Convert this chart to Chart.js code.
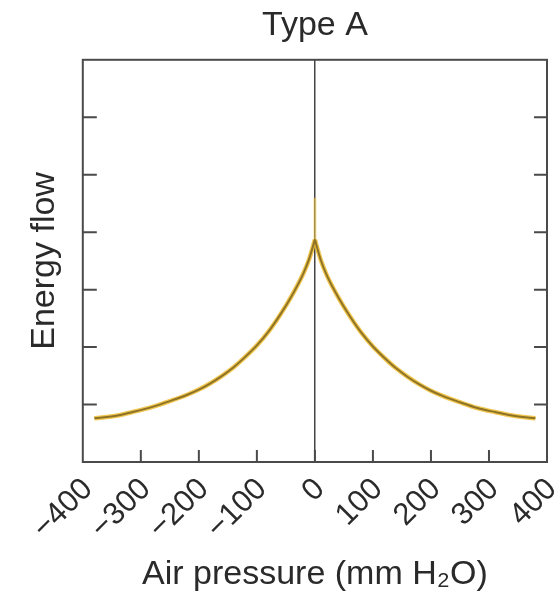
<!DOCTYPE html>
<html>
<head>
<meta charset="utf-8">
<script src="https://cdn.jsdelivr.net/npm/chart.js@4/dist/chart.umd.min.js"></script>
<style>
  body { margin: 0; background: #fff; }
  #wrap { width: 557px; height: 597px; }
</style>
</head>
<body>
<div id="wrap"><canvas id="typeA"></canvas></div>
<script>
// values
var pressure = [-380, -340, -310, -280, -250, -220, -200, -180, -160, -140, -120, -100, -80, -60, -40, -20, -10, 0,
                10, 20, 40, 60, 80, 100, 120, 140, 160, 180, 200, 220, 250, 280, 310, 340, 380];
var flow = [0.76, 0.81, 0.88, 0.96, 1.06, 1.17, 1.26, 1.37, 1.50, 1.65, 1.83, 2.03, 2.27, 2.56, 2.89, 3.28, 3.53, 3.87,
            3.52, 3.26, 2.87, 2.54, 2.25, 2.01, 1.81, 1.63, 1.48, 1.35, 1.24, 1.15, 1.04, 0.94, 0.87, 0.81, 0.76];
var spikePressure = [0, 0];
var spikeFlow = [3.87, 4.6];

var xTickValues = [-400, -300, -200, -100, 0, 100, 200, 300, 400];
var xTickLabels = ["\u2212400", "\u2212300", "\u2212200", "\u2212100", "0", "100", "200", "300", "400"];
var yTickValues = [1, 2, 3, 4, 5, 6];

var font = "'Liberation Sans', Arial, Helvetica, sans-serif";
var textColor = "#2a2a2a";

function points(xs, ys, from, to) {
    var out = [];
    for (var i = from; i <= to; i++) out.push({ x: xs[i], y: ys[i] });
    return out;
}
var mid = pressure.indexOf(0);
var leftBranch = points(pressure, flow, 0, mid);
var rightBranch = points(pressure, flow, mid, pressure.length - 1);

// frame + inward tick marks, placed with the chart's own scales
var frameAndTicks = {
    id: "frameAndTicks",
    afterDatasetsDraw: function (chart) {
        var ctx = chart.ctx, a = chart.chartArea, x = chart.scales.x, y = chart.scales.y;
        ctx.save();
        ctx.strokeStyle = "#4a4a4a";
        ctx.lineWidth = 2;
        ctx.strokeRect(a.left, a.top, a.right - a.left, a.bottom - a.top);
        ctx.beginPath();
        yTickValues.forEach(function (v) {
            var py = y.getPixelForValue(v);
            ctx.moveTo(a.left, py); ctx.lineTo(a.left + 14, py);
            ctx.moveTo(a.right, py); ctx.lineTo(a.right - 13, py);
        });
        xTickValues.slice(1, -1).forEach(function (v) {
            var px = x.getPixelForValue(v);
            ctx.moveTo(px, a.bottom); ctx.lineTo(px, a.bottom - 12);
        });
        ctx.stroke();
        ctx.restore();
    }
};

function branch(data, color, width, order) {
    return {
        data: data,
        borderColor: color,
        borderWidth: width,
        pointRadius: 0,
        fill: false,
        cubicInterpolationMode: "monotone",
        order: order
    };
}

var config = {
    type: "line",
    data: {
        datasets: [
            branch(leftBranch, "#8e7326", 2, 0),
            branch(rightBranch, "#8e7326", 2, 0),
            branch(leftBranch, "rgba(236,184,36,0.8)", 4.5, 1),
            branch(rightBranch, "rgba(236,184,36,0.8)", 4.5, 1),
            branch(points(spikePressure, spikeFlow, 0, 1), "rgba(245,205,80,0.55)", 3, 2)
        ]
    },
    options: {
        responsive: true,
        maintainAspectRatio: false,
        animation: false,
        layout: { padding: { left: 0, right: 10, top: 0, bottom: 0 } },
        plugins: {
            legend: { display: false },
            tooltip: { enabled: false }
        },
        scales: {
            x: {
                type: "linear",
                min: -400,
                max: 400,
                afterBuildTicks: function (scale) {
                    scale.ticks = xTickValues.map(function (v) { return { value: v }; });
                },
                afterFit: function (scale) {
                    scale.paddingRight = 0;
                    scale.height = 135;
                },
                ticks: {
                    autoSkip: false,
                    maxRotation: 45,
                    minRotation: 45,
                    padding: 9,
                    labelOffset: 5,
                    color: textColor,
                    font: { family: font, size: 31 },
                    callback: function (v) { return xTickLabels[xTickValues.indexOf(v)]; }
                },
                grid: {
                    drawTicks: false,
                    lineWidth: 1.5,
                    color: function (c) { return c.tick && c.tick.value === 0 ? "#444" : "rgba(0,0,0,0)"; }
                },
                border: { display: false },
                title: {
                    display: true,
                    text: "Air pressure (mm H\u2082O)",
                    color: textColor,
                    font: { family: font, size: 34 },
                    padding: { top: 4, bottom: 2 }
                }
            },
            // top axis only carries the chart title, centred over the plot box
            top: {
                type: "linear",
                position: "top",
                min: -400,
                max: 400,
                ticks: { display: false },
                grid: { display: false, drawTicks: false },
                border: { display: false },
                title: {
                    display: true,
                    text: "Type A",
                    color: textColor,
                    font: { family: font, size: 34 },
                    padding: { top: 5, bottom: 14 }
                }
            },
            y: {
                min: 0,
                max: 7,
                ticks: { display: false, stepSize: 1 },
                grid: { display: false, drawTicks: false },
                border: { display: false },
                title: {
                    display: true,
                    text: "Energy flow",
                    color: textColor,
                    font: { family: font, size: 34 },
                    padding: { top: 24, bottom: 18 }
                }
            }
        }
    },
    plugins: [frameAndTicks]
};

var typeAChart = new Chart(document.getElementById("typeA"), config);
</script>
</body>
</html>
